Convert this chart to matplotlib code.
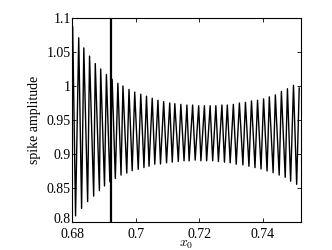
import numpy as np
import matplotlib
matplotlib.use('Agg')
import matplotlib.pyplot as plt
from matplotlib.ticker import FormatStrFormatter
from matplotlib.transforms import ScaledTranslation

plt.rcParams['font.family'] = 'Liberation Serif'
plt.rcParams['mathtext.fontset'] = 'cm'

# spike maxima (x0, amplitude)
peak_x = [0.6802, 0.6821, 0.6837, 0.6855, 0.6873, 0.6890, 0.6908, 0.6926, 0.6944, 0.6960,
          0.6979, 0.6997, 0.7016, 0.7034, 0.7052, 0.7070, 0.7088, 0.7107, 0.7123, 0.7142,
          0.7161, 0.7179, 0.7198, 0.7216, 0.7234, 0.7252, 0.7271, 0.7288, 0.7307, 0.7326,
          0.7345, 0.7364, 0.7383, 0.7402, 0.7420, 0.7439, 0.7458, 0.7477, 0.7496, 0.7514]
peak_y = [1.087, 1.071, 1.056, 1.044, 1.033, 1.025, 1.017, 1.010, 1.004, 1.000,
          0.995, 0.991, 0.988, 0.985, 0.982, 0.979, 0.977, 0.975, 0.974, 0.973,
          0.972, 0.972, 0.971, 0.971, 0.971, 0.971, 0.972, 0.972, 0.973, 0.975,
          0.976, 0.978, 0.979, 0.981, 0.984, 0.987, 0.992, 0.996, 1.001, 0.997]

# spike minima
trough_x = [0.6811, 0.6830, 0.6849, 0.6868, 0.6886, 0.6902, 0.6919, 0.6936, 0.6954, 0.6972,
            0.6989, 0.7008, 0.7026, 0.7042, 0.7060, 0.7078, 0.7097, 0.7115, 0.7134, 0.7152,
            0.7168, 0.7187, 0.7205, 0.7223, 0.7242, 0.7260, 0.7279, 0.7297, 0.7316, 0.7337,
            0.7356, 0.7375, 0.7394, 0.7413, 0.7432, 0.7451, 0.7470, 0.7487, 0.7506]
trough_y = [0.809, 0.820, 0.830, 0.838, 0.846, 0.853, 0.859, 0.864, 0.869, 0.872,
            0.8755, 0.8775, 0.880, 0.882, 0.885, 0.8853, 0.887, 0.888, 0.889, 0.890,
            0.890, 0.891, 0.890, 0.890, 0.890, 0.889, 0.888, 0.887, 0.885, 0.884,
            0.882, 0.880, 0.878, 0.875, 0.8725, 0.869, 0.8657, 0.860, 0.8554]

x_mark = 0.6921

# interleave maxima and minima into one trace
xs, ys = [], []
for i in range(len(peak_x)):
    xs.append(peak_x[i]); ys.append(peak_y[i])
    if i < len(trough_x):
        xs.append(trough_x[i]); ys.append(trough_y[i])

fig = plt.figure(figsize=(3.32, 2.5), dpi=100)
ax = fig.add_axes([0.217, 0.112, 0.69, 0.816])
ax.plot(xs, ys, color='black', linewidth=1.0)
ax.axvline(x_mark, color='black', linewidth=1.6)

ax.set_xlim(0.68, 0.752)
ax.set_ylim(0.8, 1.1)
ax.set_xticks([0.68, 0.70, 0.72, 0.74])
ax.set_yticks([0.8, 0.85, 0.9, 0.95, 1.0, 1.05, 1.1])
ax.xaxis.set_major_formatter(FormatStrFormatter('%g'))
ax.yaxis.set_major_formatter(FormatStrFormatter('%g'))
ax.tick_params(direction='in', top=True, right=True, labelsize=10, length=3, width=0.6, pad=1)
ax.tick_params(axis='x', pad=4)
for s in ax.spines.values():
    s.set_linewidth(0.8)

# nudge the bottom y label up a little so it clears 0.68
lab = ax.yaxis.get_major_ticks()[0].label1
lab.set_transform(lab.get_transform() + ScaledTranslation(0, 3 / 72, fig.dpi_scale_trans))

ax.set_xlabel('$x_0$', fontsize=10, labelpad=-2)
ax.set_ylabel('spike amplitude', fontsize=10, labelpad=4)

fig.savefig('out.png', dpi=100)
